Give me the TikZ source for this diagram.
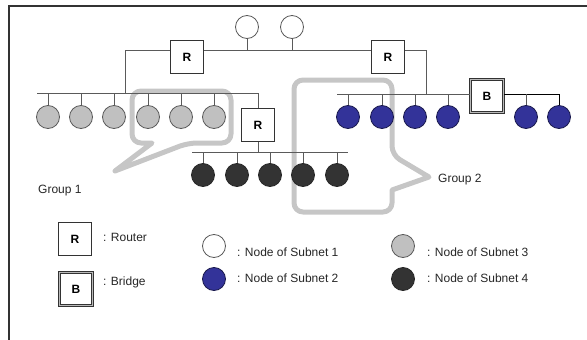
\documentclass[tikz,border=0pt]{standalone}
\usepackage{fontspec}
\setmainfont{Liberation Sans}
\usetikzlibrary{positioning,calc}
\definecolor{linegray}{HTML}{5A5A5A}
\definecolor{calloutgray}{HTML}{C6C6C6}
\definecolor{subnetgray}{HTML}{C0C0C0}
\definecolor{subnetblue}{HTML}{333399}
\definecolor{subnetdark}{HTML}{333333}
\tikzset{
  bus/.style={draw=linegray, line width=0.9pt},
  router/.style={draw=black!80, fill=white, line width=0.9pt, minimum size=33pt, inner sep=0pt, font=\fontsize{12}{14}\selectfont\bfseries},
  bridge/.style={draw=black!80, double=gray!55, double distance=1.3pt, line width=0.8pt, fill=white, minimum size=33pt, inner sep=0pt, font=\fontsize{12}{14}\selectfont\bfseries},
  hostnode/.style={circle, draw=black!65, line width=0.8pt, minimum size=23pt, inner sep=0pt},
  nodeA/.style={hostnode, fill=white},
  nodeB/.style={hostnode, fill=subnetblue, draw=subnetblue!50!black},
  nodeC/.style={hostnode, fill=subnetgray},
  nodeD/.style={hostnode, fill=subnetdark, draw=black!85},
  callout/.style={draw=calloutgray, line width=5pt, rounded corners=9pt, line join=round},
  keytext/.style={anchor=west, inner sep=1pt, text=black!85}
}
\begin{document}
\begin{tikzpicture}[x=1pt, y=-1pt, font=\fontsize{12}{14}\selectfont]
    \useasboundingbox (0,0) rectangle (587,340);
    % frame
    \draw[line width=1.4pt, black!80] (9,340) -- (9,6) -- (587,6);

    % Group callouts
    \draw[callout] (132,120) -- (132,91) -- (231,91) -- (231,143) -- (188,143)
        [sharp corners] -- (115,171) -- (152,143) [rounded corners=9pt] -- (132,143) -- cycle;
    \draw[callout] (294,140) -- (294,80) -- (392,80) -- (392,155)
        [sharp corners] -- (429,177) -- (392,190) [rounded corners=9pt] -- (392,212) -- (294,212) -- cycle;

    % Routers and bridge
    \node[router] (r1) at (187,57) {R};
    \node[router] (r2) at (388,57) {R};
    \node[router] (r3) at (258,125) {R};
    \node[bridge] (br) at (487,96) {B};

    % Subnet nodes
    \node[nodeA] (w1) at (247,27) {};
    \node[nodeA] (w2) at (292,27) {};
    \foreach \x [count=\i] in {48,81,114,148,181,214}
        \node[nodeC] (g\i) at (\x,117) {};
    \foreach \x [count=\i] in {348,382,415,448,526,559}
        \node[nodeB] (b\i) at (\x,117) {};
    \foreach \x [count=\i] in {203,237,270,303,337}
        \node[nodeD] (d\i) at (\x,175) {};

    % Buses
    \coordinate (topL) at (125,50);
    \coordinate (topR) at (426,50);
    \coordinate (grayL) at (37,93);
    \coordinate (grayR) at (258,93);
    \coordinate (blueL) at (337,94);
    \coordinate (blueR) at (559,94);
    \coordinate (darkL) at (192,152);
    \coordinate (darkR) at (348,152);

    \draw[bus] (grayL) -- (grayR) -- (r3.north);
    \draw[bus] (topL |- grayL) -- (topL) -- (topL -| r1.west);
    \draw[bus] (topL -| r1.east) -- (topR -| r2.west);
    \draw[bus] (topR -| r2.east) -- (topR) -- (topR |- blueL);
    \draw[bus] (blueL) -- (blueL -| br.west);
    \draw[bus, draw=black] (blueR -| br.east) -- (blueR) -- (b6.north);
    \draw[bus] (darkL) -- (darkR);
    \draw[bus] (r3.south) -- (r3.south |- darkL);
    \foreach \i in {1,2}
        \draw[bus] (w\i.south) -- (w\i.south |- topL);
    \foreach \i in {1,...,6}
        \draw[bus] (g\i.north) -- (g\i.north |- grayL);
    \foreach \i in {1,...,5}
        \draw[bus] (b\i.north) -- (b\i.north |- blueL);
    \foreach \i in {1,...,5}
        \draw[bus] (d\i.north) -- (d\i.north |- darkL);

    % Group labels
    \node[keytext] (grp1) at (37,191) {Group 1};
    \node[keytext] (grp2) at (437,180) {Group 2};

    % Legend
    \node[router] (keyr) at (75,239) {R};
    \node[keytext] (keyrtext) at (102,237) {: Router};
    \node[bridge] (keyb) at (76,289) {B};
    \node[keytext] (keybtext) at (102,282) {: Bridge};
    \node[nodeA] (keyw) at (214,246) {};
    \node[keytext] (keywtext) at (236,252) {: Node of Subnet 1};
    \node[nodeB] (keyblue) at (214,279) {};
    \node[keytext] (keybluetext) at (236,278) {: Node of Subnet 2};
    \node[nodeC] (keyg) at (403,246) {};
    \node[keytext] (keygtext) at (426,252) {: Node of Subnet 3};
    \node[nodeD] (keyd) at (403,279) {};
    \node[keytext] (keydtext) at (426,278) {: Node of Subnet 4};
\end{tikzpicture}
\end{document}
